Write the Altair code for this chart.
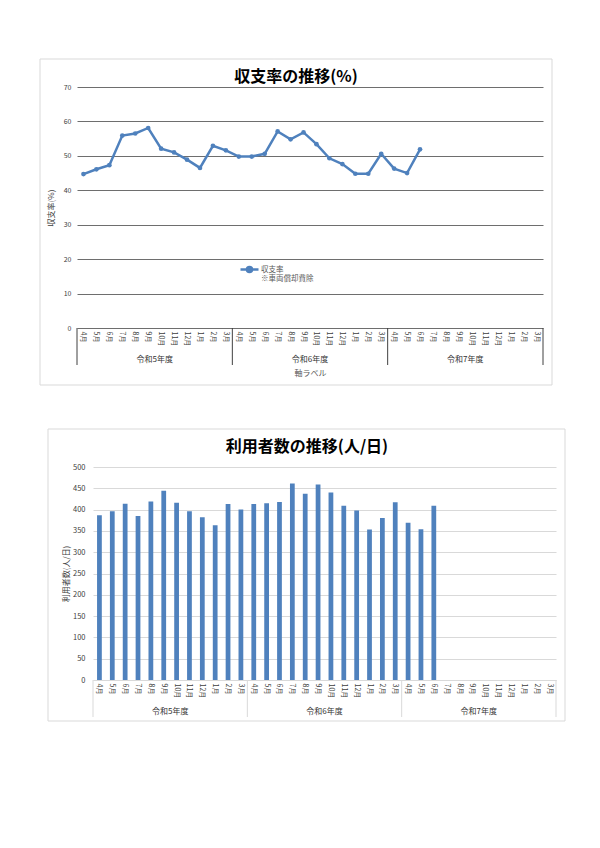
import altair as alt
import pandas as pd

# ---------------- data ----------------
months = ["4月", "5月", "6月", "7月", "8月", "9月", "10月", "11月", "12月", "1月", "2月", "3月"]
fiscal_years = ["令和5年度", "令和6年度", "令和7年度"]

# 収支率(%) Apr R5 .. Jun R7
rate = [44.7, 46.1, 47.3, 55.9, 56.5, 58.1, 52.1, 51.0, 48.9, 46.5, 52.9, 51.6,
        49.8, 49.8, 50.6, 57.1, 54.8, 56.8, 53.4, 49.3, 47.6, 44.8, 44.8, 50.6,
        46.3, 45.0, 51.9]

# 利用者数(人/日) Apr R5 .. Jun R7
users = [387, 396, 414, 385, 419, 444, 416, 396, 382, 363, 413, 400,
         413, 415, 418, 461, 437, 459, 440, 409, 398, 353, 380, 417,
         369, 354, 409]

rate_ticks = [0, 10, 20, 30, 40, 50, 60, 70]
user_ticks = [0, 50, 100, 150, 200, 250, 300, 350, 400, 450, 500]

series_name = "収支率"
legend_note = "※車両償却費除"
title1 = "収支率の推移(%)"
title2 = "利用者数の推移(人/日)"
ytitle1 = "収支率(%)"
ytitle2 = "利用者数(人/日)"
xtitle1 = "軸ラベル"

# ---------------- helpers ----------------
FONT = "Noto Sans CJK JP"
BLUE = "#4f81bd"
N = len(months) * len(fiscal_years)
idx_domain = list(range(N))

rate_df = pd.DataFrame({"idx": list(range(len(rate))), "value": rate, "series": series_name})
users_df = pd.DataFrame({"idx": list(range(len(users))), "value": users})
year_df = pd.DataFrame({"idx": [i * len(months) + len(months) // 2 - 1 for i in range(len(fiscal_years))],
                        "label": fiscal_years})
sep_df = pd.DataFrame({"idx": [i * len(months) for i in range(len(fiscal_years))]})
end_df = pd.DataFrame({"idx": [N - 1]})
one = pd.DataFrame({"k": [0]})

month_expr = "[" + ",".join(f"'{m}'" for m in months) + "][datum.value % 12]"
legend_expr = f"['{series_name}', '{legend_note}']"

SHIFT1 = 16  # chart 1's plot starts 16px left of chart 2's


def month_axis(**kw):
    args = dict(labelExpr=month_expr, labelAngle=90, labelFontSize=7, labelColor="#404040",
                labelPadding=3, ticks=False, domain=False, grid=False, labelFont=FONT)
    args.update(kw)
    return alt.Axis(**args)


def box_and_title(box, title, title_xy):
    rect = alt.Chart(one).mark_rect(fill="transparent", stroke="#d9d9d9", strokeWidth=1).encode(
        x=alt.value(box[0]), x2=alt.value(box[1]), y=alt.value(box[2]), y2=alt.value(box[3]))
    txt = alt.Chart(pd.DataFrame({"t": [title]})).mark_text(
        font=FONT, fontSize=16, fontWeight="bold", color="#000000", align="center", baseline="middle"
    ).encode(text="t:N", x=alt.value(title_xy[0]), y=alt.value(title_xy[1]))
    return [rect, txt]


def group_layers(xs, xaxis, H, sep_color, year_y):
    seps = alt.Chart(sep_df).mark_rule(color=sep_color, strokeWidth=1).encode(
        x=alt.X("idx:O", scale=xs, axis=xaxis, bandPosition=0), y=alt.value(H), y2=alt.value(H + 37))
    end = alt.Chart(end_df).mark_rule(color=sep_color, strokeWidth=1).encode(
        x=alt.X("idx:O", scale=xs, axis=xaxis, bandPosition=1), y=alt.value(H), y2=alt.value(H + 37))
    yrs = alt.Chart(year_df).mark_text(font=FONT, fontSize=8, color="#333333", baseline="middle").encode(
        x=alt.X("idx:O", scale=xs, axis=xaxis, bandPosition=1), y=alt.value(year_y), text="label:N")
    return [seps, end, yrs]


# ---------------- chart 1 ----------------
W1, H1 = 450, 241
xs1 = alt.Scale(type="band", domain=idx_domain, paddingInner=0, paddingOuter=0, range=[-SHIFT1, W1])
x_axis1 = month_axis(title=xtitle1, titleFontSize=8, titleColor="#595959", titleFontWeight="normal",
                     titleFont=FONT, titleX=(W1 - SHIFT1) / 2, titleY=45, titleBaseline="middle",
                     titleAlign="center")
y_axis1 = alt.Axis(values=rate_ticks, grid=True, gridColor="#6e6e6e", gridWidth=1, domain=False, ticks=False,
                   offset=SHIFT1, labelFontSize=7, labelColor="#404040", labelPadding=6, labelFont=FONT,
                   title=ytitle1, titleFontSize=8, titleColor="#404040", titleFontWeight="normal", titleFont=FONT,
                   titleX=-26, titleY=H1 / 2, titleAngle=270, titleAlign="center", titleBaseline="middle")
y_scale1 = alt.Scale(domain=[0, 70], nice=False)

sym_path = "M-1,0L1,0M0.28,0A0.28,0.28,0,1,1,-0.28,0A0.28,0.28,0,1,1,0.28,0"

line = alt.Chart(rate_df).mark_line(strokeWidth=2.5).encode(
    x=alt.X("idx:O", scale=xs1, axis=x_axis1),
    y=alt.Y("value:Q", scale=y_scale1, axis=y_axis1),
    color=alt.Color("series:N", scale=alt.Scale(domain=[series_name], range=[BLUE]),
                    legend=alt.Legend(orient="none", legendX=239 - 92 - 1, legendY=172, padding=0, title=None,
                                      symbolType=sym_path, symbolSize=324, symbolStrokeWidth=2.5,
                                      symbolFillColor=BLUE, symbolStrokeColor=BLUE,
                                      labelExpr=legend_expr, labelFontSize=7.5, labelColor="#595959",
                                      labelOffset=1, labelFont=FONT)),
)
points = alt.Chart(rate_df).mark_point(filled=True, size=22, opacity=1, color=BLUE).encode(
    x=alt.X("idx:O", scale=xs1, axis=x_axis1),
    y=alt.Y("value:Q", scale=y_scale1, axis=y_axis1),
)

chart1 = alt.layer(
    *box_and_title((39 - 92, 551 - 92, -28, 298), title1, (295 - 92, -10)),
    line, points,
    *group_layers(xs1, x_axis1, H1, "#404040", 273),
).properties(width=W1, height=H1)

# ---------------- chart 2 ----------------
W2, H2 = 463, 213
xs2 = alt.Scale(type="band", domain=idx_domain, paddingInner=0, paddingOuter=0)
x_axis2 = month_axis(title=None, domain=True, domainColor="#d9d9d9")
y_axis2 = alt.Axis(values=user_ticks, grid=True, gridColor="#d9d9d9", gridWidth=1, domain=False, ticks=False,
                   labelFontSize=7.5, labelColor="#404040", labelPadding=8, labelFont=FONT,
                   title=ytitle2, titleFontSize=8, titleColor="#404040", titleFontWeight="normal", titleFont=FONT,
                   titleX=-27, titleY=H2 / 2, titleAngle=270, titleAlign="center", titleBaseline="middle")
bars = alt.Chart(users_df).mark_bar(color=BLUE, width=alt.RelativeBandSize(0.37)).encode(
    x=alt.X("idx:O", scale=xs2, axis=x_axis2),
    y=alt.Y("value:Q", scale=alt.Scale(domain=[0, 500], nice=False), axis=y_axis2),
)

chart2 = alt.layer(
    *box_and_title((47 - 92, 564 - 92, -38, 254), title2, (306 - 92, -20)),
    bars,
    *group_layers(xs2, x_axis2, H2, "#d9d9d9", 245),
).properties(width=W2, height=H2)

chart = alt.vconcat(chart1, chart2, spacing=42).properties(
    padding={"left": 31, "top": 50, "right": 5, "bottom": 5}
).configure(font=FONT).configure_view(strokeWidth=0)

chart.save("out.html", embed_options={"renderer": "svg", "actions": False})
